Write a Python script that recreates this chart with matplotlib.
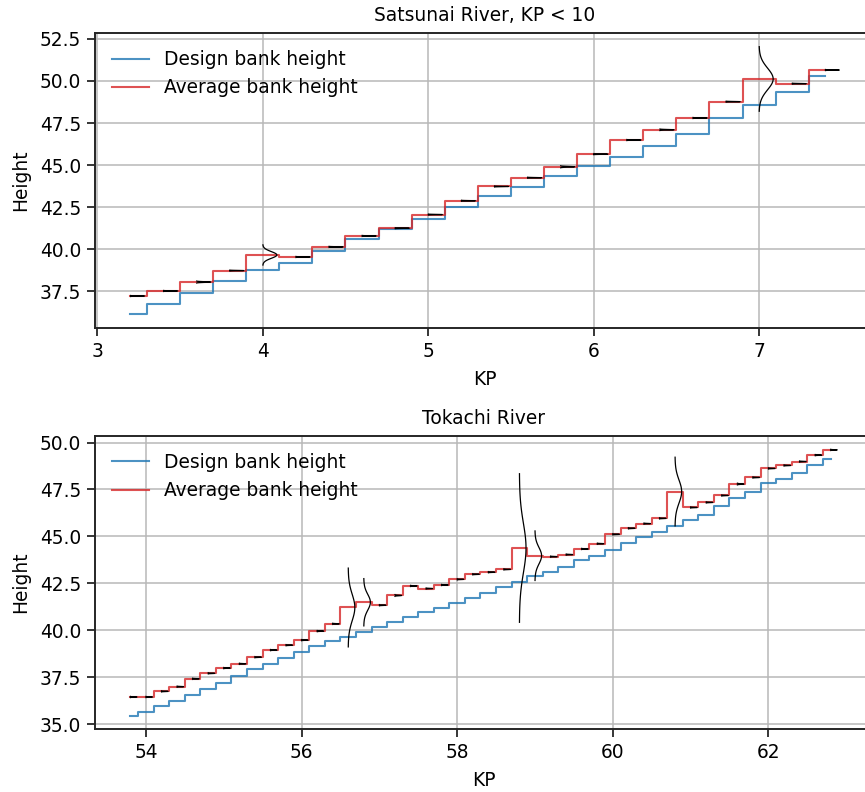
import numpy as np
import matplotlib.pyplot as plt
from matplotlib.ticker import MultipleLocator

# Satsunai River (KP < 10): KP points, design / average bank height, spread of measured heights
kp_satsunai = [3.2, 3.4, 3.6, 3.8, 4.0, 4.2, 4.4, 4.6, 4.8, 5.0, 5.2,
               5.4, 5.6, 5.8, 6.0, 6.2, 6.4, 6.6, 6.8, 7.0, 7.2, 7.4]
design_satsunai = [36.13, 36.74, 37.40, 38.11, 38.77, 39.18, 39.88, 40.58, 41.21, 41.80, 42.52,
                   43.17, 43.71, 44.37, 44.94, 45.48, 46.15, 46.85, 47.80, 48.57, 49.37, 50.32]
average_satsunai = [37.22, 37.52, 38.05, 38.73, 39.66, 39.54, 40.14, 40.79, 41.25, 42.06, 42.88,
                    43.73, 44.25, 44.90, 45.65, 46.49, 47.10, 47.80, 48.77, 50.12, 49.84, 50.65]
spread_satsunai = [0.01, 0.01, 0.02, 0.01, 0.20, 0.01, 0.01, 0.01, 0.01, 0.01, 0.01,
                   0.01, 0.01, 0.02, 0.01, 0.01, 0.015, 0.01, 0.01, 0.64, 0.01, 0.01]

# Tokachi River
kp_tokachi = [53.8, 54.0, 54.2, 54.4, 54.6, 54.8, 55.0, 55.2, 55.4, 55.6, 55.8, 56.0,
              56.2, 56.4, 56.6, 56.8, 57.0, 57.2, 57.4, 57.6, 57.8, 58.0, 58.2, 58.4,
              58.6, 58.8, 59.0, 59.2, 59.4, 59.6, 59.8, 60.0, 60.2, 60.4, 60.6, 60.8,
              61.0, 61.2, 61.4, 61.6, 61.8, 62.0, 62.2, 62.4, 62.6, 62.8]
design_tokachi = [35.43, 35.64, 35.96, 36.25, 36.54, 36.86, 37.16, 37.55, 37.91, 38.21, 38.51, 38.83,
                  39.15, 39.40, 39.65, 39.91, 40.16, 40.43, 40.73, 40.96, 41.17, 41.44, 41.70, 41.97,
                  42.29, 42.55, 42.87, 43.12, 43.39, 43.72, 43.97, 44.26, 44.63, 44.95, 45.21, 45.57,
                  45.85, 46.15, 46.63, 47.06, 47.34, 47.87, 48.07, 48.40, 48.80, 49.15]
average_tokachi = [36.44, 36.44, 36.74, 36.99, 37.41, 37.70, 37.98, 38.21, 38.56, 38.94, 39.20, 39.47,
                   39.95, 40.34, 41.21, 41.49, 41.33, 41.85, 42.36, 42.22, 42.41, 42.71, 42.98, 43.09,
                   43.24, 44.38, 43.97, 43.92, 44.03, 44.33, 44.61, 45.11, 45.43, 45.68, 45.96, 47.39,
                   46.54, 46.81, 47.18, 47.79, 48.14, 48.62, 48.78, 48.99, 49.33, 49.61]
spread_tokachi = [0.01, 0.01, 0.01, 0.01, 0.01, 0.01, 0.01, 0.01, 0.01, 0.01, 0.01, 0.01,
                  0.01, 0.01, 0.70, 0.42, 0.01, 0.015, 0.01, 0.01, 0.01, 0.01, 0.01, 0.01,
                  0.01, 1.32, 0.44, 0.01, 0.01, 0.01, 0.01, 0.01, 0.01, 0.01, 0.01, 0.61,
                  0.01, 0.01, 0.01, 0.015, 0.01, 0.01, 0.01, 0.01, 0.01, 0.01]

plt.rcParams["font.size"] = 13.4
plt.rcParams["axes.titlesize"] = "medium"
plt.rcParams["axes.labelsize"] = "medium"
plt.rcParams["legend.fontsize"] = "medium"

DARK = "#262626"


def draw_reach(ax, kp, design, average, spread, title):
    ax.step(kp, design, where="mid", color="tab:blue", alpha=0.8, lw=1.5, label="Design bank height")
    ax.step(kp, average, where="mid", color="tab:red", alpha=0.8, lw=1.5, label="Average bank height")
    # little sideways normal curve of the measured heights at every KP
    z = np.linspace(-3, 3, 120)
    for x, m, s in zip(kp, average, spread):
        ax.plot(x + 0.085 * np.exp(-z ** 2 / 2), m + s * z, color="k", lw=0.9)
    ax.set_title(title, pad=8.5)
    ax.set_xlabel("KP", labelpad=6.5)
    ax.set_ylabel("Height", labelpad=7)
    ax.yaxis.set_major_locator(MultipleLocator(2.5))
    ax.grid(True, color="#b8b8b8", lw=1.1)
    ax.legend(loc="upper left", frameon=False)
    for sp in ax.spines.values():
        sp.set_linewidth(1.4)
        sp.set_color(DARK)
    ax.tick_params(length=5.5, width=1.3, pad=4.5, color=DARK, labelcolor="black")


fig = plt.figure(figsize=(8.65, 7.92), dpi=100)
ax1 = fig.add_axes([0.1098, 0.5862, 0.9015, 0.3718])
ax2 = fig.add_axes([0.1098, 0.0792, 0.899, 0.3703])

draw_reach(ax1, kp_satsunai, design_satsunai, average_satsunai, spread_satsunai, "Satsunai River, KP < 10")
draw_reach(ax2, kp_tokachi, design_tokachi, average_tokachi, spread_tokachi, "Tokachi River")

fig.savefig("out.png", dpi=100)
